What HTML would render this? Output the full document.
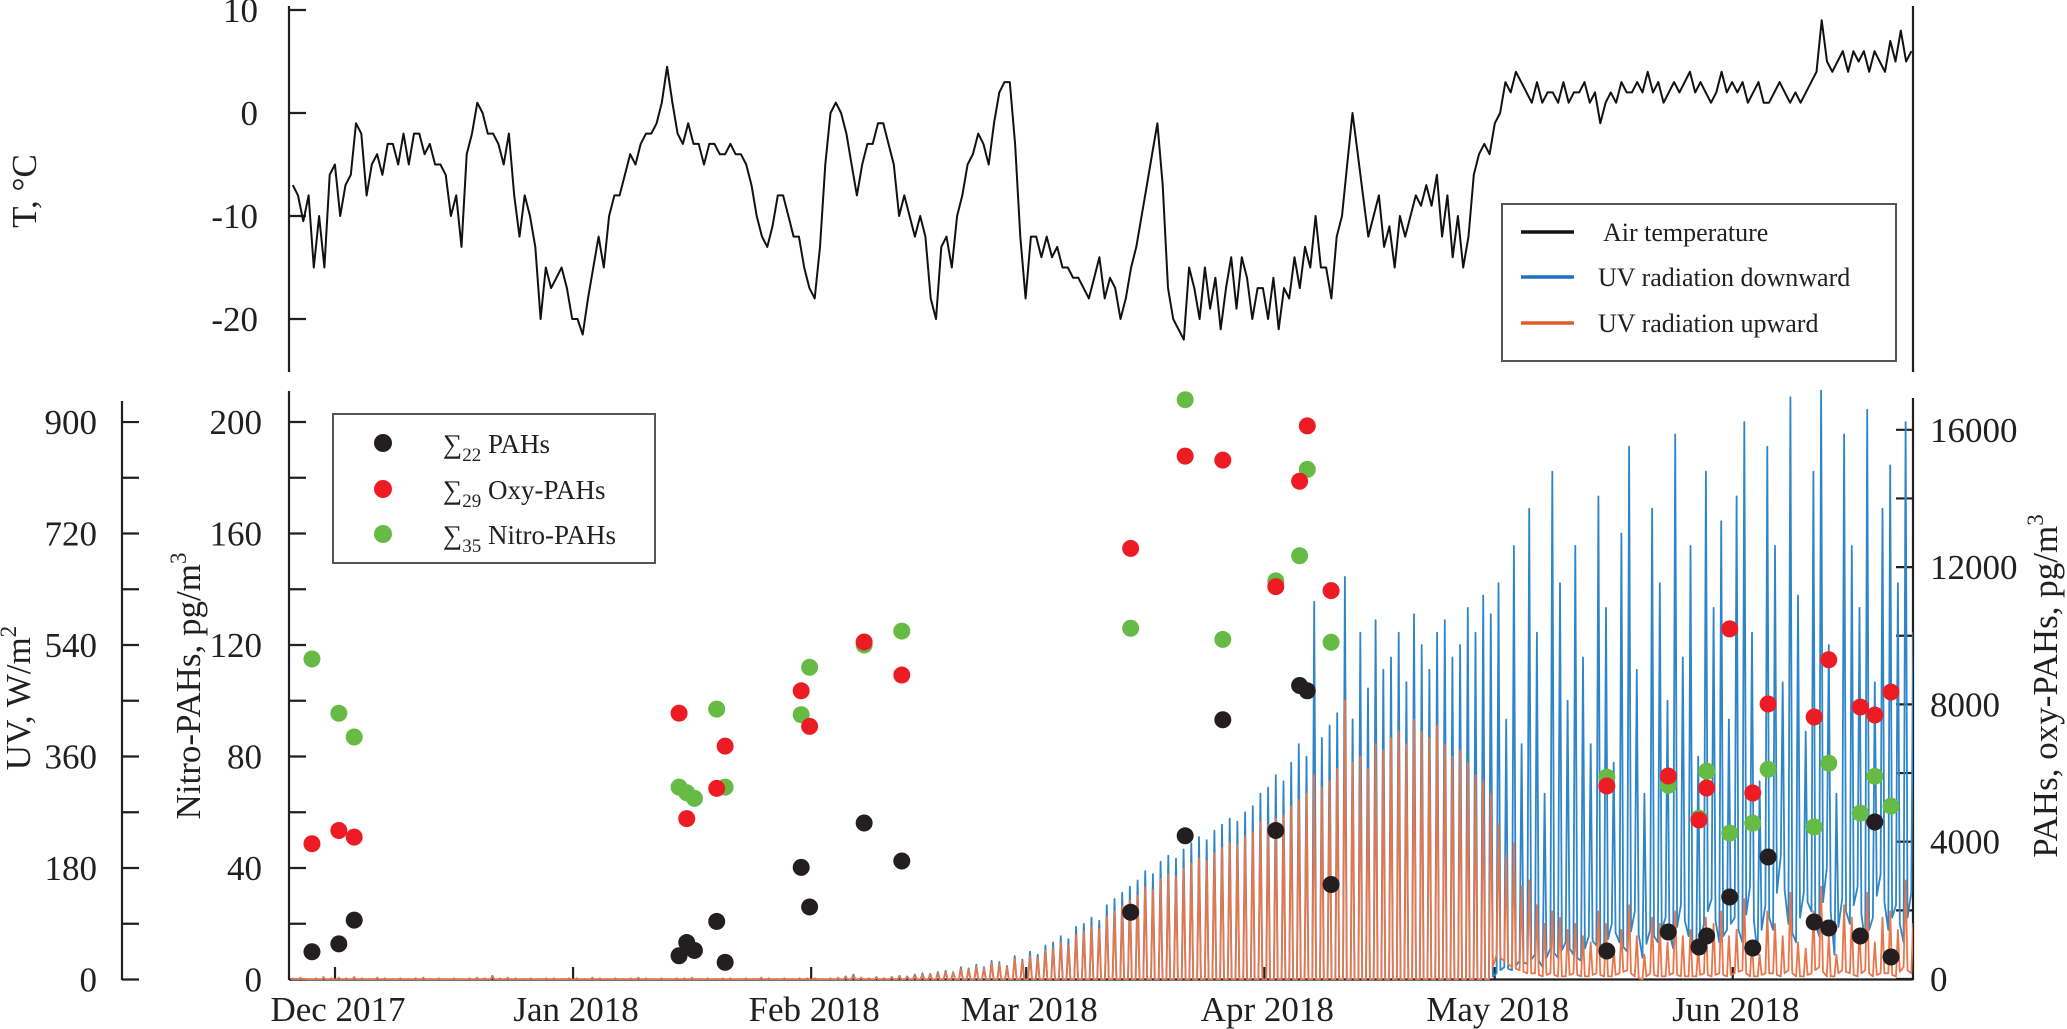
<!DOCTYPE html>
<html><head><meta charset="utf-8"><style>
html,body{margin:0;padding:0;background:#fff;}
svg{display:block;font-family:"Liberation Serif",serif;}
</style></head><body>
<svg id="chart" width="2067" height="1029" viewBox="0 0 2067 1029" xmlns="http://www.w3.org/2000/svg">
<g id="top-panel"></g>
<g id="bottom-panel"></g>
</svg>
<script>
// ---------- data ----------
const monthLabels = ["Dec 2017","Jan 2018","Feb 2018","Mar 2018","Apr 2018","May 2018","Jun 2018"];
const monthStartDays = [0,31,62,90,121,151,182];
const tempTicks = [10,0,-10,-20];
const nitroTicks = [0,40,80,120,160,200];
const uvTicks = [0,180,360,540,720,900];
const pahTicks = [0,4000,8000,12000,16000];
const tempStartDay = -5.5;
const tempStepDays = 0.6865;
const tempValues = [-7,-8,-10.5,-8,-15,-10,-15,-6,-5,-10,-7,-6,-1,-2,-8,-5,-4,-6,-3,-3,-5,-2,-5,-2,-2,-4,-3,-5,-5,-6,-10,-8,-13,-4,-2,1,0,-2,-2,-3,-5,-2,-8,-12,-8,-10,-13,-20,-15,-17,-16,-15,-17,-20,-20,-21.5,-18,-15,-12,-15,-10,-8,-8,-6,-4,-5,-3,-2,-2,-1,1,4.5,1,-2,-3,-1,-3,-3,-5,-3,-3,-4,-4,-3,-4,-4,-5,-7,-10,-12,-13,-11,-8,-8,-10,-12,-12,-15,-17,-18,-13,-5,0,1,0,-2,-5,-8,-5,-3,-3,-1,-1,-3,-5,-10,-8,-10,-12,-10,-12,-18,-20,-13,-12,-15,-10,-8,-5,-4,-2,-3,-5,-1,2,3,3,-3,-12,-18,-12,-12,-14,-12,-14,-13,-15,-15,-16,-16,-17,-18,-16,-14,-18,-16,-17,-20,-18,-15,-13,-10,-7,-4,-1,-7,-17,-20,-21,-22,-15,-17,-20,-15,-19,-16,-21,-17,-14,-19,-14,-16,-20,-17,-17,-20,-16,-21,-17,-18,-14,-17,-13,-15,-10,-15,-15,-18,-12,-10,-5,0,-4,-8,-12,-10,-8,-13,-11,-15,-10,-12,-10,-8,-9,-7,-9,-6,-12,-8,-14,-10,-15,-12,-6,-4,-3,-4,-1,0,3,2,4,3,2,1,3,1,2,2,1,3,1,2,2,3,1,2,-1,1,2,1,3,2,2,3,2,4,2,3,1,2,3,2,3,4,2,3,2,1,2,4,2,3,2,3,1,2,3,1,1,2,3,2,1,2,1,2,3,4,9,5,4,5,6,4,6,5,6,4,6,5,4,7,5,8,5,6];

const uvFirstDay = -6;
const uvDownNov = [0,1,0,0,2,0];
const uvDownDec = [1,0,0,1,0,0,0,0,0,0,0,0,0,0,0,0,0,0,0,0,6,0,1,0,0,0,0,0,0,0,0];
const uvDownJan = [0,0,1,0,0,0,0,0,0,0,0,0,0,0,0,0,0,0,0,0,0,0,0,0,0,0,0,0,0,0,0];
const uvDownFeb = [0,0,0,0,5,8,3,2,4,2,4,6,5,8,10,9,12,14,12,20,18,24,20,30,28,22,38,32];
const uvDownMar = [45,40,55,60,70,65,85,90,100,95,120,130,140,150,160,175,170,190,200,195,210,220,230,225,240,250,260,255,270,280,300];
const uvDownApr = [310,330,320,350,380,360,610,390,410,430,650,420,560,470,580,500,520,560,480,590,540,500,560,580,520,540,600,560,620,590];
const uvDownMay = [640,420,700,380,760,560,300,820,640,450,700,520,380,780,600,350,720,860,500,300,760,640,450,880,520,700,360,820,600,740,420];
const uvDownJun = [780,900,560,320,860,700,480,940,620,400,820,960,540,300,880,700,600,920,480,760,830,640,900,560];
const uvDownMinMay = [10,20,15,30,25,40,20,50,35,60,40,30,70,55,40,90,60,45,110,35,80,60,100,50,120,70,40,90,130,60,80];
const uvDownMinJun = [100,60,150,40,120,80,200,90,60,140,110,70,180,40,130,90,150,60,100,170,80,120,60,140];

const uvUpNov = [2,3,1,2,4,2];
const uvUpDec = [3,2,4,2,1,3,2,1,2,1,2,3,1,2,1,2,1,2,3,2,5,2,3,2,1,2,1,2,2,1,2];
const uvUpJan = [2,1,3,2,1,2,1,2,3,2,1,2,1,2,2,3,1,2,1,2,2,1,2,1,3,2,1,2,1,2,2];
const uvUpFeb = [2,1,2,3,4,6,3,2,3,2,4,5,4,7,8,8,10,12,11,17,16,21,18,26,25,20,33,29];
const uvUpMar = [38,34,47,51,60,55,72,77,85,81,102,110,119,128,136,149,145,162,170,166,179,187,196,191,204,213,221,217,230,238,255];
const uvUpApr = [250,260,265,280,290,300,330,310,320,340,450,350,360,340,380,370,390,400,380,420,400,390,410,380,360,370,350,330,320,300];
const uvUpMay = [250,200,220,150,160,120,90,110,100,80,90,70,60,110,90,50,80,120,70,40,100,90,60,110,70,80,50,100,90,110,70];
const uvUpJun = [80,130,60,40,110,90,70,140,60,50,110,150,70,40,120,100,80,140,60,100,110,80,160,90];
const uvUpMinMay = [40,30,20,15,10,10,5,10,5,5,10,5,5,10,5,5,10,15,5,0,10,5,5,10,5,5,5,10,5,10,5];
const uvUpMinJun = [10,15,5,5,10,10,5,15,5,5,10,20,5,5,15,10,5,15,5,10,10,5,20,10];

const sampleDays = [-3,0.5,2.5,44.8,45.8,46.8,49.7,50.8,60.7,61.8,68.9,73.8,103.6,110.7,115.6,122.5,125.6,126.6,129.7,165.6,173.6,177.6,178.6,181.6,184.6,186.6,192.6,194.5,198.6,200.5,202.6];
const pahValues = [793,1024,1715,678,1062,832,1677,486,3251,2099,4544,3437,1945,4172,7552,4326,8550,8396,2752,816,1369,932,1253,2389,903,3554,1660,1486,1253,4573,641];
const oxyValues = [3942,4326,4134,7744,4672,null,5555,6784,8396,7360,9817,8855,12544,15232,15116,11430,14502,16115,11315,5622,5913,4632,5564,10200,5418,8011,7632,9300,7923,7690,8360];
const nitroValues = [115,95.5,87,69,67,65,97,69,95,112,120,125,126,208,122,143,152,183,121,72.6,69.7,57.9,74.7,52.5,56.1,75.4,54.7,77.6,59.7,72.9,62.2];

// ---------- scales ----------
const X0 = 289, X1 = 1913;
function xDay(d){ return 335 + 7.68*d; }
function yTemp(t){ return 113 - 10.3*t; }
function yNitro(v){ return 979.5 - 2.7875*v; }
function yUV(v){ return 979.5 - 0.6194*v; }
function yPah(v){ return 979 - 0.034325*v; }

const NS = "http://www.w3.org/2000/svg";
function mk(tag, attrs, parent){
  const el = document.createElementNS(NS, tag);
  for (const k in attrs) el.setAttribute(k, attrs[k]);
  parent.appendChild(el); return el;
}
const topG = document.getElementById('top-panel');
const botG = document.getElementById('bottom-panel');
const AX = {stroke:"#231f20","stroke-width":2.2,fill:"none"};

const defs = mk('defs',{},document.getElementById('chart'));
const cp = mk('clipPath',{id:'plotclip'},defs);
mk('rect',{x:X0,y:390,width:X1-X0,height:590},cp);

// ---------- top panel ----------
let e;
e = mk('line',{x1:X0,y1:6,x2:X0,y2:372,...AX},topG);
 
e = mk('line',{x1:X1,y1:6,x2:X1,y2:372,...AX},topG);
 
tempTicks.forEach(t=>{
  const y = yTemp(t);
  const tk = mk('line',{x1:X0,y1:y,x2:X0+17,y2:y,...AX},topG);
   
  const tx = mk('text',{x:258,y:y+12,'text-anchor':'end','font-size':35,fill:'#231f20'},topG);
  tx.textContent = String(t);
   
});
e = mk('text',{transform:'translate(36,191) rotate(-90)','text-anchor':'middle','font-size':35,fill:'#231f20'},topG);
e.textContent = 'T, °C';
 
let tp = [];
tempValues.forEach((t,i)=>{ tp.push(xDay(tempStartDay + i*tempStepDays).toFixed(1)+','+yTemp(t).toFixed(1)); });
e = mk('polyline',{points:tp.join(' '),fill:'none',stroke:'#111','stroke-width':2,'stroke-linejoin':'round'},topG);
 

const lg = mk('g',{},topG);
 
mk('rect',{x:1502,y:204,width:394,height:157,fill:'#fff',stroke:'#555','stroke-width':2},lg);
[['Air temperature','#111',1603,232],['UV radiation downward','#1f72c0',1598,277],['UV radiation upward','#e05a2a',1598,323]].forEach(r=>{
  const l = mk('line',{x1:1521,y1:r[3],x2:1574,y2:r[3],stroke:r[1],'stroke-width':3.5},lg);
   
  const t = mk('text',{x:r[2],y:r[3]+9,'font-size':26,fill:'#231f20'},lg);
  t.textContent = r[0];
   
});

// ---------- bottom panel axes ----------
e = mk('line',{x1:X0,y1:391,x2:X0,y2:980,...AX},botG);
 
e = mk('line',{x1:122,y1:401,x2:122,y2:980,...AX},botG);
 
e = mk('line',{x1:X1,y1:398,x2:X1,y2:980,...AX},botG);
 
e = mk('line',{x1:X0,y1:979.5,x2:X1,y2:979.5,...AX},botG);
 

for (let v=0; v<=200; v+=20){
  const y = yNitro(v);
  const tk = mk('line',{x1:X0,y1:y,x2:X0+17,y2:y,...AX},botG);
   
}
nitroTicks.forEach(v=>{
  const tx = mk('text',{x:262,y:yNitro(v)+12,'text-anchor':'end','font-size':35,fill:'#231f20'},botG);
  tx.textContent = String(v);
   
});
for (let v=0; v<=900; v+=90){
  const y = yUV(v);
  const tk = mk('line',{x1:122,y1:y,x2:139,y2:y,...AX},botG);
   
}
uvTicks.forEach(v=>{
  const tx = mk('text',{x:97,y:yUV(v)+12,'text-anchor':'end','font-size':35,fill:'#231f20'},botG);
  tx.textContent = String(v);
   
});
for (let v=0; v<=16000; v+=2000){
  const y = yPah(v);
  const tk = mk('line',{x1:X1-17,y1:y,x2:X1,y2:y,...AX},botG);
   
}
pahTicks.forEach(v=>{
  const tx = mk('text',{x:1930,y:yPah(v)+12,'text-anchor':'start','font-size':35,fill:'#231f20'},botG);
  tx.textContent = String(v);
   
});
monthStartDays.forEach((d,i)=>{
  const x = xDay(d);
  const tk = mk('line',{x1:x,y1:979.5,x2:x,y2:967,...AX},botG);
   
  const tx = mk('text',{x:x+3,y:1021,'text-anchor':'middle','font-size':35,fill:'#231f20'},botG);
  tx.textContent = monthLabels[i];
   
});
e = mk('text',{transform:'translate(30,698) rotate(-90)','text-anchor':'middle','font-size':35,fill:'#231f20'},botG);
e.innerHTML = 'UV, W/m<tspan dy="-14" font-size="23">2</tspan>';
 
e = mk('text',{transform:'translate(200,686) rotate(-90)','text-anchor':'middle','font-size':35,fill:'#231f20'},botG);
e.innerHTML = 'Nitro-PAHs, pg/m<tspan dy="-14" font-size="23">3</tspan>';
 
e = mk('text',{transform:'translate(2057,686) rotate(-90)','text-anchor':'middle','font-size':35,fill:'#231f20'},botG);
e.innerHTML = 'PAHs, oxy-PAHs, pg/m<tspan dy="-14" font-size="23">3</tspan>';
 

// ---------- UV series ----------
const uvDown = [].concat(uvDownNov,uvDownDec,uvDownJan,uvDownFeb,uvDownMar,uvDownApr,uvDownMay,uvDownJun);
const uvUp = [].concat(uvUpNov,uvUpDec,uvUpJan,uvUpFeb,uvUpMar,uvUpApr,uvUpMay,uvUpJun);
const zerosBeforeMay = uvDownNov.length+uvDownDec.length+uvDownJan.length+uvDownFeb.length+uvDownMar.length+uvDownApr.length;
function mins(minMay, minJun){ const a = new Array(zerosBeforeMay).fill(0); return a.concat(minMay, minJun); }
const uvDownMin = mins(uvDownMinMay, uvDownMinJun);
const uvUpMin = mins(uvUpMinMay, uvUpMinJun);
function uvPoints(peaks, troughs){
  const pts = [];
  peaks.forEach((p,i)=>{
    const d = uvFirstDay + i;
    const tr = troughs[i] || 0;
    const trNext = troughs[i+1] !== undefined ? troughs[i+1] : tr;
    pts.push(xDay(d+0.25).toFixed(1)+','+yUV(tr).toFixed(1));
    pts.push(xDay(d+0.5).toFixed(1)+','+yUV(p).toFixed(1));
    pts.push(xDay(d+0.75).toFixed(1)+','+yUV((tr+trNext)/2).toFixed(1));
  });
  return pts.join(' ');
}
const uvg = mk('g',{'clip-path':'url(#plotclip)'},botG);
e = mk('polyline',{points:uvPoints(uvDown,uvDownMin),fill:'none',stroke:'#2e86c8','stroke-width':1.8,'stroke-linejoin':'round'},uvg);
 
e = mk('polyline',{points:uvPoints(uvUp,uvUpMin),fill:'none',stroke:'#e8764a','stroke-width':1.8,'stroke-linejoin':'round'},uvg);
 

// ---------- scatter ----------
const sg = mk('g',{},botG);
nitroValues.forEach((v,i)=>{
  if (v===null) return;
  const c = mk('circle',{cx:xDay(sampleDays[i]),cy:yNitro(v),r:8.5,fill:'#66bb44'},sg);
   
});
oxyValues.forEach((v,i)=>{
  if (v===null) return;
  const c = mk('circle',{cx:xDay(sampleDays[i]),cy:yPah(v),r:8.5,fill:'#ed1c24'},sg);
   
});
pahValues.forEach((v,i)=>{
  if (v===null) return;
  const c = mk('circle',{cx:xDay(sampleDays[i]),cy:yPah(v),r:8.5,fill:'#231f20'},sg);
   
});

const bl = mk('g',{},botG);
 
mk('rect',{x:333,y:414,width:322,height:149,fill:'#fff',stroke:'#555','stroke-width':2},bl);
[['22',' PAHs','#231f20',443],['29',' Oxy-PAHs','#ed1c24',489],['35',' Nitro-PAHs','#66bb44',534]].forEach(r=>{
  const c = mk('circle',{cx:383,cy:r[3],r:9,fill:r[2]},bl);
   
  const t = mk('text',{x:443,y:r[3]+10,'font-size':27,fill:'#231f20'},bl);
  t.innerHTML = '∑<tspan dy="8" font-size="19">'+r[0]+'</tspan><tspan dy="-8">'+r[1]+'</tspan>';
   
});
</script>
</body></html>
